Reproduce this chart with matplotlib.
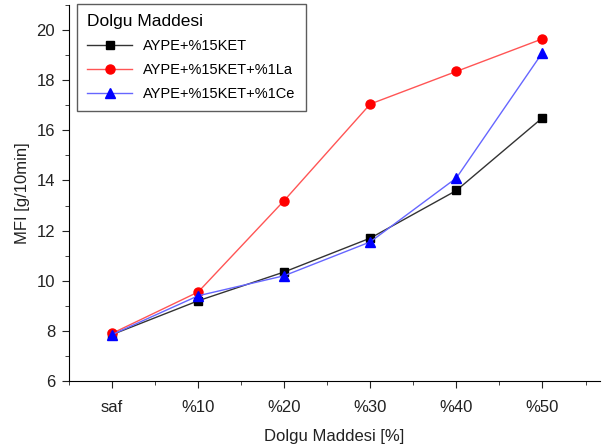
import matplotlib
matplotlib.use('Agg')
from matplotlib import pyplot as plt
from matplotlib.ticker import MultipleLocator

plt.rcParams['font.family'] = ['Liberation Sans', 'DejaVu Sans']

# chart data
categories = ['saf', '%10', '%20', '%30', '%40', '%50']
ket = [7.85, 9.2, 10.35, 11.7, 13.6, 16.5]
ket_la = [7.9, 9.55, 13.2, 17.05, 18.35, 19.65]
ket_ce = [7.85, 9.4, 10.2, 11.55, 14.1, 19.1]

x = list(range(len(categories)))

fig = plt.figure(figsize=(6.07, 4.45), dpi=100)
ax = fig.add_axes([0.1137, 0.1438, 0.875, 0.845])

ax.plot(x, ket, color='#333333', lw=1, marker='s', ms=6, mfc='black', mec='black', label='AYPE+%15KET')
ax.plot(x, ket_la, color='#ff5555', lw=1, marker='o', ms=6.5, mfc='red', mec='red', label='AYPE+%15KET+%1La')
ax.plot(x, ket_ce, color='#6666ff', lw=1, marker='^', ms=7, mfc='blue', mec='blue', label='AYPE+%15KET+%1Ce')

ax.set_xlim(-0.5, 5.67)
ax.set_ylim(6, 21)
ax.set_xticks(x)
ax.set_xticklabels(categories)
ax.xaxis.set_minor_locator(MultipleLocator(0.5))
ax.yaxis.set_major_locator(MultipleLocator(2))
ax.yaxis.set_minor_locator(MultipleLocator(1))
ax.tick_params(which='both', direction='out', labelsize=12, colors='#222222')
ax.tick_params(which='major', length=5)
ax.tick_params(which='minor', length=3)
ax.tick_params(axis='x', which='major', pad=9)
ax.tick_params(axis='y', which='major', pad=5)
ax.spines['top'].set_visible(False)
ax.spines['right'].set_visible(False)

ax.set_xlabel('Dolgu Maddesi [%]', fontsize=12, color='#222222', labelpad=10)
ax.set_ylabel('MFI [g/10min]', fontsize=12, color='#222222', labelpad=5)

leg = ax.legend(title='Dolgu Maddesi', loc='upper left', bbox_to_anchor=(0.015, 1.003),
                fontsize=10.5, title_fontsize=12.5, frameon=True, fancybox=False,
                edgecolor='#333333', handlelength=3.1, handletextpad=0.75,
                borderpad=0.7, labelspacing=0.68, borderaxespad=0)
leg._legend_box.align = 'left'
leg.get_frame().set_linewidth(1)

fig.savefig('out.png', dpi=100)
